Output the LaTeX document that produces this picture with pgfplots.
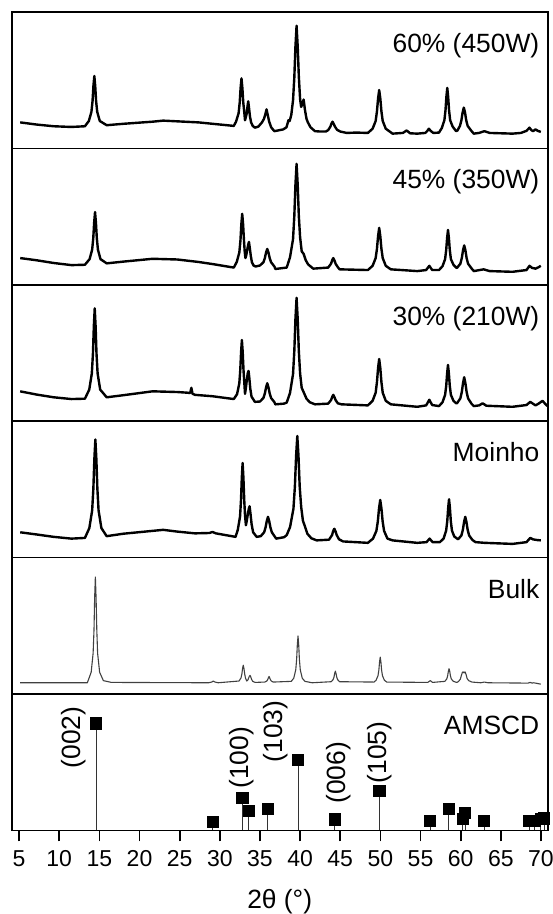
\documentclass[border=0pt]{standalone}
\usepackage{fontspec}
\setmainfont{Liberation Sans}
\usepackage{pgfplots}
\pgfplotsset{compat=1.18}

\newcommand\panelfont{\fontsize{13.2}{15}\selectfont}
\newcommand\tickfont{\fontsize{11.5}{13}\selectfont}

\pgfplotsset{
  panel/.style={
    width=268pt, height=68.2pt, scale only axis,
    xmin=4.08, xmax=70.84, ymin=0, ymax=388,
    xtick=\empty, ytick=\empty,
    axis line style={line width=0.85pt},
    anchor=north west, clip=true,
  },
  noisy/.style={black, line width=1.2pt, line join=round},
}

\begin{document}
\begin{tikzpicture}
\useasboundingbox (-5.85pt,6pt) rectangle (270.15pt,-451pt);

% ---------- 60% (450W) ----------
\begin{axis}[panel, at={(0pt,0pt)}]
\addplot[noisy] coordinates {
(5.14,74) (7.12,68) (9.32,63) (11.52,61) (13.2,63)
(13.69,78) (14.01,104) (14.15,135) (14.26,178) (14.37,206) (14.48,178) (14.59,135) (14.73,104) (15.05,78)
(15.91,66) (18,70) (21.63,76) (22.95,79) (24.7,77) (27.34,74) (29.1,70) (31.74,64)
(32.02,76) (32.34,100) (32.48,131) (32.59,172) (32.70,199) (32.81,172) (32.92,131) (33.06,100)
(33.14,80) (33.25,90) (33.36,100) (33.45,120) (33.54,134) (33.64,115) (33.76,90) (33.9,74) (34.1,64) (34.37,59)
(34.8,62) (35.25,74) (35.5,84) (35.68,98) (35.82,111) (35.96,96) (36.15,76) (36.4,60) (36.79,49)
(37.89,54) (38.3,60) (38.55,80) (38.7,78) (38.9,95) (39.12,137) (39.28,202) (39.42,290) (39.56,349)
(39.70,290) (39.84,205) (40.0,140) (40.13,118) (40.3,128) (40.44,139) (40.6,110) (40.8,84) (40.97,74) (41.3,60) (41.85,49)
(42.5,48) (43.2,48) (43.5,52) (43.77,62) (43.9,70) (44.04,76) (44.18,70) (44.34,62) (44.6,53) (45.0,48)
(45.8,44) (47,45) (48.44,44) (49.03,56) (49.41,78) (49.57,105) (49.71,142) (49.85,166) (49.99,142) (50.13,105) (50.29,78) (50.67,56) (51.52,42)
(52.8,44) (53.27,51) (53.7,43) (54.59,42) (55.6,44) (55.85,50) (56.04,56) (56.25,50) (56.6,44) (57.3,45)
(57.65,58) (57.97,80) (58.11,109) (58.22,147) (58.33,172) (58.44,147) (58.55,109) (58.69,80) (59.0,62) (59.43,49)
(59.6,51) (59.91,64) (60.09,80) (60.24,102) (60.39,116) (60.54,102) (60.69,80) (60.87,64) (61.29,51) (61.63,42)
(62.3,44) (62.95,49) (63.6,44) (65,43) (66.46,42) (67.5,44) (68.2,50) (68.57,59) (68.8,52) (69.01,49) (69.32,54) (69.6,50) (69.98,47)
};
\node[anchor=base east, inner sep=0pt, font=\panelfont, xshift=-4pt, yshift=-20.25pt] at (rel axis cs:1,1) {60\% (450W)};
\end{axis}

% ---------- 45% (350W) ----------
\begin{axis}[panel, at={(0pt,-68.2pt)}]
\addplot[noisy] coordinates {
(5.14,76) (7.12,70) (9.32,62) (11.52,56) (13.2,57)
(13.78,73) (14.10,100) (14.24,133) (14.35,177) (14.46,207) (14.57,177) (14.68,133) (14.82,100) (15.14,73) (15.91,61)
(18,66) (21.63,74) (24.7,72) (27.34,65) (29.1,59) (31.74,49)
(32.11,65) (32.43,92) (32.57,126) (32.68,172) (32.79,202) (32.90,172) (33.01,126) (33.10,95) (33.19,76)
(33.3,85) (33.42,100) (33.53,114) (33.63,122) (33.74,104) (33.86,82) (34.0,64) (34.2,55) (34.46,52)
(35.0,55) (35.43,64) (35.61,76) (35.76,92) (35.91,102) (36.06,92) (36.21,76) (36.39,64) (36.8,52) (36.92,45)
(38.33,49) (38.74,78) (39.12,130) (39.28,196) (39.42,285) (39.56,344) (39.70,285) (39.84,196) (40.0,135) (40.2,95) (40.44,88) (40.7,70) (41.0,58) (41.63,46)
(43.5,49) (43.85,60) (44.0,70) (44.13,76) (44.27,70) (44.42,60) (44.7,50) (44.92,44)
(48.44,42) (49.03,54) (49.41,76) (49.57,102) (49.71,138) (49.85,162) (49.99,138) (50.13,102) (50.29,76) (50.67,54) (51.3,44)
(54.59,39) (55.7,42) (56.09,54) (56.45,42) (57.3,42)
(57.74,53) (58.06,73) (58.2,100) (58.31,133) (58.42,156) (58.53,133) (58.64,100) (58.78,73) (59.1,57) (59.43,49)
(59.54,48) (59.96,60) (60.14,76) (60.29,98) (60.44,112) (60.59,98) (60.74,76) (60.92,60) (61.34,47) (61.63,39)
(62.86,44) (63.6,39) (66.46,37) (68.2,42) (68.57,54) (68.9,48) (69.32,46) (69.7,50) (69.98,54)
};
\node[anchor=base east, inner sep=0pt, font=\panelfont, xshift=-4pt, yshift=-20.25pt] at (rel axis cs:1,1) {45\% (350W)};
\end{axis}

% ---------- 30% (210W) ----------
\begin{axis}[panel, at={(0pt,-136.4pt)}]
\addplot[noisy] coordinates {
(5.14,85) (7.12,76) (9.32,68) (11.52,63) (13.2,64)
(13.74,90) (14.06,136) (14.20,193) (14.31,270) (14.42,321) (14.53,270) (14.64,193) (14.78,136) (15.10,90) (15.91,68)
(18,74) (21.63,85) (24.7,83) (26.02,81) (26.3,80) (26.46,95) (26.6,78) (26.9,75) (29.1,71) (31.74,63)
(32.15,77) (32.43,108) (32.55,146) (32.65,197) (32.75,231) (32.85,197) (32.95,146) (33.05,110) (33.14,78)
(33.25,95) (33.37,118) (33.48,137) (33.58,143) (33.68,122) (33.8,92) (33.95,70) (34.37,55)
(35.0,56) (35.43,66) (35.61,79) (35.76,96) (35.91,108) (36.06,96) (36.21,79) (36.39,66) (36.8,54) (36.92,48) (38.0,50) (38.33,53)
(38.74,80) (39.12,134) (39.28,200) (39.42,291) (39.56,351) (39.70,291) (39.84,200) (40.0,136) (40.2,95) (40.53,78) (40.8,64) (41.2,54) (41.85,48)
(43.5,50) (43.85,60) (44.0,69) (44.13,75) (44.27,69) (44.42,60) (44.7,51) (45.14,48) (48.44,45)
(49.03,58) (49.41,81) (49.57,111) (49.71,151) (49.85,177) (49.99,151) (50.13,111) (50.29,81) (50.67,58) (51.3,48)
(54.59,41) (55.7,45) (56.09,61) (56.45,46) (57.3,43)
(57.74,54) (58.06,75) (58.2,101) (58.31,136) (58.42,160) (58.53,136) (58.64,101) (58.78,75) (59.1,58) (59.43,51)
(59.54,51) (59.96,65) (60.14,83) (60.29,108) (60.44,125) (60.59,108) (60.74,83) (60.92,65) (61.34,50) (61.63,43)
(62.3,45) (62.73,51) (63.2,44) (66.46,41) (68.2,46) (68.66,55) (69.32,45) (69.7,50) (70.2,58) (70.5,50) (70.8,43)
};
\node[anchor=base east, inner sep=0pt, font=\panelfont, xshift=-4pt, yshift=-20.25pt] at (rel axis cs:1,1) {30\% (210W)};
\end{axis}

% ---------- Moinho ----------
\begin{axis}[panel, at={(0pt,-204.6pt)}]
\addplot[noisy] coordinates {
(5.14,72) (7.12,66) (9.32,59) (11.52,54) (13.2,56)
(13.75,84) (14.1,134) (14.25,196) (14.375,280) (14.5,336) (14.625,280) (14.75,196) (14.9,134) (15.25,84) (15.91,61)
(18,68) (22.95,79) (24.7,74) (26.9,69) (28.7,70) (29.1,73) (29.5,69) (31.96,59)
(32.24,79) (32.52,117) (32.64,164) (32.74,227) (32.84,269) (32.94,227) (33.04,164) (33.14,120) (33.25,92)
(33.36,105) (33.5,125) (33.62,140) (33.71,146) (33.82,125) (33.96,95) (34.15,72) (34.59,59)
(35.1,61) (35.52,72) (35.7,86) (35.85,104) (36.0,116) (36.15,104) (36.3,86) (36.48,72) (36.9,58) (37.01,54) (38.0,58) (38.33,64)
(38.75,87) (39.17,139) (39.35,202) (39.5,288) (39.65,346) (39.8,288) (39.95,202) (40.13,145) (40.35,105) (40.6,89) (40.9,68) (41.4,55) (42.07,49)
(43.6,51) (43.98,64) (44.11,75) (44.26,82) (44.41,75) (44.56,64) (44.85,52) (45.36,46) (48.44,42)
(49.08,54) (49.5,76) (49.68,103) (49.83,140) (49.98,164) (50.13,140) (50.28,103) (50.46,76) (50.88,54) (51.52,49)
(54.59,42) (55.75,44) (56.13,54) (56.5,44) (57.4,44)
(57.87,54) (58.19,77) (58.33,104) (58.44,141) (58.55,166) (58.66,141) (58.77,104) (58.91,77) (59.2,60) (59.56,54)
(59.67,52) (60.09,63) (60.27,79) (60.42,101) (60.57,116) (60.72,101) (60.87,79) (61.05,63) (61.47,50) (61.85,44)
(63,42) (66.46,39) (68.2,44) (68.66,56) (69.0,52) (69.5,50) (69.98,49)
};
\node[anchor=base east, inner sep=0pt, font=\panelfont, xshift=-4pt, yshift=-20.25pt] at (rel axis cs:1,1) {Moinho};
\end{axis}

% ---------- Bulk ----------
\begin{axis}[panel, at={(0pt,-272.8pt)}]
\addplot[black!75, line width=0.55pt, line join=round] coordinates {
(5.14,32) (13.5,32)
(13.98,62) (14.22,116) (14.33,182) (14.41,273) (14.5,333) (14.59,273) (14.68,182) (14.78,116) (15.03,62) (15.5,38) (16.5,33)
(28.6,32) (29.0,34) (29.19,37) (29.4,34) (29.8,32)
(32.4,37) (32.64,46) (32.75,57) (32.83,72) (32.92,82) (33.01,72) (33.1,57) (33.2,45) (33.36,37)
(33.5,40) (33.6,46) (33.67,50) (33.76,53) (33.85,49) (33.95,42) (34.1,36) (34.4,33)
(35.6,34) (35.85,37) (35.96,41) (36.05,46) (36.13,50) (36.21,46) (36.3,41) (36.41,37) (36.66,34)
(38.9,36) (39.21,45) (39.46,69) (39.57,99) (39.65,138) (39.74,165) (39.83,138) (39.91,99) (40.02,69) (40.27,45) (40.6,36) (41.5,32)
(43.87,35) (44.11,41) (44.22,48) (44.3,58) (44.39,65) (44.48,58) (44.56,48) (44.67,41) (44.92,35)
(49.2,34) (49.46,39) (49.7,52) (49.81,68) (49.89,90) (49.98,105) (50.07,90) (50.15,68) (50.26,52) (50.5,39) (50.8,34)
(55.9,33) (56.22,38) (56.5,33)
(58.03,36) (58.27,43) (58.38,52) (58.46,64) (58.55,72) (58.64,64) (58.72,52) (58.83,43) (59.08,36) (59.5,33)
(59.7,35) (59.95,42) (60.08,52) (60.2,61) (60.3,63) (60.42,60) (60.55,63) (60.68,55) (60.8,44) (61.0,38) (61.4,34)
(62.5,32) (62.95,34) (63.4,32) (68.4,31) (68.66,33) (68.9,31) (69.1,32) (69.54,30) (69.98,28)
};
\node[anchor=base east, inner sep=0pt, font=\panelfont, xshift=-4pt, yshift=-20.25pt] at (rel axis cs:1,1) {Bulk};
\end{axis}

% ---------- AMSCD reference pattern ----------
\begin{axis}[panel, at={(0pt,-341pt)},
  xtick={5,10,...,70}, xtick pos=bottom, tick align=outside,
  major tick length=5.5pt,
  every tick/.style={black, line width=0.85pt},
  /pgf/number format/assume math mode=true,
  xticklabel style={font=\tickfont, yshift=-1.2pt},
  xlabel={2θ (°)},
  xlabel style={font=\panelfont, at={(axis description cs:0.5,0)}, anchor=center, yshift=-35.8pt},
]
\addplot[ycomb, black!80, line width=0.5pt,
  mark=square*, mark size=2.8pt, mark options={fill=black, draw=black, solid}] coordinates {
(14.59,304) (29.14,24) (32.83,92) (33.63,56) (35.99,61) (39.78,201) (44.31,31) (49.89,111)
(56.18,26) (58.51,62) (60.26,32) (60.57,49) (62.95,26) (68.53,26) (69.19,26) (69.98,32) (70.42,34)
};
\node[rotate=90, inner sep=0pt, font=\panelfont] at (axis cs:11.74,264) {(002)};
\node[rotate=90, inner sep=0pt, font=\panelfont] at (axis cs:32.70,206.5) {(100)};
\node[rotate=90, inner sep=0pt, font=\panelfont] at (axis cs:37.01,281.5) {(103)};
\node[rotate=90, inner sep=0pt, font=\panelfont] at (axis cs:44.79,164) {(006)};
\node[rotate=90, inner sep=0pt, font=\panelfont] at (axis cs:49.85,221.5) {(105)};
\node[anchor=base east, inner sep=0pt, font=\panelfont, xshift=-4pt, yshift=-20.25pt] at (rel axis cs:1,1) {AMSCD};
\end{axis}
\end{tikzpicture}
\end{document}
